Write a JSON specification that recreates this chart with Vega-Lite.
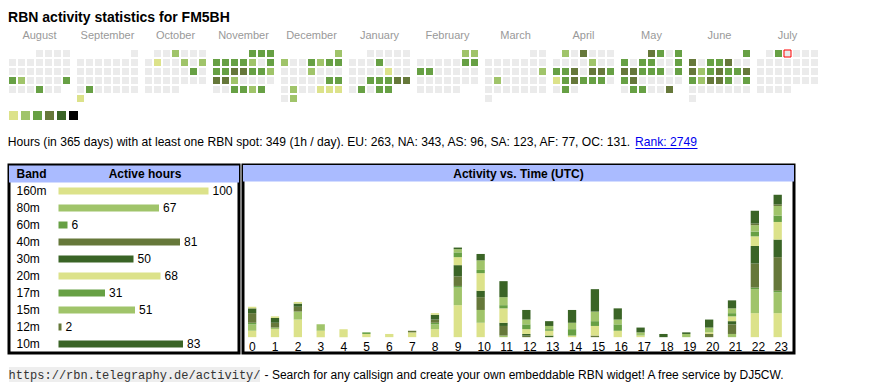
{
"$schema":"https://vega.github.io/schema/vega-lite/v6.json",
"padding":{"left":7,"top":11,"right":0,"bottom":0},
"background":"white",
"config":{"view":{"stroke":null},"font":"Liberation Sans","text":{"font":"Liberation Sans","fontSize":12,"color":"#000000"}},
"title":{"text":"RBN activity statistics for FM5BH","anchor":"start","fontSize":14,"fontWeight":"bold","font":"Liberation Sans","color":"#000000","offset":5,"dx":1},
"resolve":{"scale":{"color":"independent"}},
"spacing":10,
"vconcat":[
{"spacing":9,"resolve":{"scale":{"color":"independent"}},"vconcat":[
{"data":{"values":[
{"m":0,"r":0,"c":3,"v":0},{"m":0,"r":0,"c":4,"v":0},{"m":0,"r":0,"c":5,"v":0},{"m":0,"r":0,"c":6,"v":0},
{"m":0,"r":1,"c":0,"v":0},{"m":0,"r":1,"c":1,"v":0},{"m":0,"r":1,"c":2,"v":0},{"m":0,"r":1,"c":3,"v":0},{"m":0,"r":1,"c":4,"v":0},{"m":0,"r":1,"c":5,"v":0},{"m":0,"r":1,"c":6,"v":0},
{"m":0,"r":2,"c":0,"v":0},{"m":0,"r":2,"c":1,"v":0},{"m":0,"r":2,"c":2,"v":0},{"m":0,"r":2,"c":3,"v":0},{"m":0,"r":2,"c":4,"v":0},{"m":0,"r":2,"c":5,"v":0},{"m":0,"r":2,"c":6,"v":0},
{"m":0,"r":3,"c":0,"v":3},{"m":0,"r":3,"c":1,"v":2},{"m":0,"r":3,"c":2,"v":0},{"m":0,"r":3,"c":3,"v":0},{"m":0,"r":3,"c":4,"v":0},{"m":0,"r":3,"c":5,"v":0},{"m":0,"r":3,"c":6,"v":3},
{"m":0,"r":4,"c":0,"v":0},{"m":0,"r":4,"c":1,"v":0},{"m":0,"r":4,"c":2,"v":0},{"m":0,"r":4,"c":3,"v":3},{"m":0,"r":4,"c":4,"v":0},{"m":0,"r":4,"c":5,"v":0},
{"m":1,"r":0,"c":6,"v":0},
{"m":1,"r":1,"c":0,"v":0},{"m":1,"r":1,"c":1,"v":0},{"m":1,"r":1,"c":2,"v":0},{"m":1,"r":1,"c":3,"v":0},{"m":1,"r":1,"c":4,"v":0},{"m":1,"r":1,"c":5,"v":0},{"m":1,"r":1,"c":6,"v":0},
{"m":1,"r":2,"c":0,"v":0},{"m":1,"r":2,"c":1,"v":0},{"m":1,"r":2,"c":2,"v":0},{"m":1,"r":2,"c":3,"v":0},{"m":1,"r":2,"c":4,"v":0},{"m":1,"r":2,"c":5,"v":0},{"m":1,"r":2,"c":6,"v":0},
{"m":1,"r":3,"c":0,"v":0},{"m":1,"r":3,"c":1,"v":0},{"m":1,"r":3,"c":2,"v":0},{"m":1,"r":3,"c":3,"v":0},{"m":1,"r":3,"c":4,"v":0},{"m":1,"r":3,"c":5,"v":0},{"m":1,"r":3,"c":6,"v":0},
{"m":1,"r":4,"c":0,"v":0},{"m":1,"r":4,"c":1,"v":3},{"m":1,"r":4,"c":2,"v":0},{"m":1,"r":4,"c":3,"v":0},{"m":1,"r":4,"c":4,"v":0},{"m":1,"r":4,"c":5,"v":0},{"m":1,"r":4,"c":6,"v":0},
{"m":1,"r":5,"c":0,"v":1},
{"m":2,"r":0,"c":1,"v":0},{"m":2,"r":0,"c":2,"v":0},{"m":2,"r":0,"c":3,"v":2},{"m":2,"r":0,"c":4,"v":0},{"m":2,"r":0,"c":5,"v":0},{"m":2,"r":0,"c":6,"v":0},
{"m":2,"r":1,"c":0,"v":0},{"m":2,"r":1,"c":1,"v":1},{"m":2,"r":1,"c":2,"v":0},{"m":2,"r":1,"c":3,"v":0},{"m":2,"r":1,"c":4,"v":2},{"m":2,"r":1,"c":5,"v":0},{"m":2,"r":1,"c":6,"v":2},
{"m":2,"r":2,"c":0,"v":0},{"m":2,"r":2,"c":1,"v":0},{"m":2,"r":2,"c":2,"v":0},{"m":2,"r":2,"c":3,"v":0},{"m":2,"r":2,"c":4,"v":0},{"m":2,"r":2,"c":5,"v":3},{"m":2,"r":2,"c":6,"v":0},
{"m":2,"r":3,"c":0,"v":0},{"m":2,"r":3,"c":1,"v":0},{"m":2,"r":3,"c":2,"v":0},{"m":2,"r":3,"c":3,"v":0},{"m":2,"r":3,"c":4,"v":0},{"m":2,"r":3,"c":5,"v":0},{"m":2,"r":3,"c":6,"v":0},
{"m":2,"r":4,"c":0,"v":0},{"m":2,"r":4,"c":1,"v":0},{"m":2,"r":4,"c":2,"v":0},{"m":2,"r":4,"c":3,"v":0},
{"m":3,"r":0,"c":4,"v":3},{"m":3,"r":0,"c":5,"v":3},{"m":3,"r":0,"c":6,"v":3},
{"m":3,"r":1,"c":0,"v":3},{"m":3,"r":1,"c":1,"v":3},{"m":3,"r":1,"c":2,"v":3},{"m":3,"r":1,"c":3,"v":3},{"m":3,"r":1,"c":4,"v":2},{"m":3,"r":1,"c":5,"v":0},{"m":3,"r":1,"c":6,"v":3},
{"m":3,"r":2,"c":0,"v":3},{"m":3,"r":2,"c":1,"v":3},{"m":3,"r":2,"c":2,"v":4},{"m":3,"r":2,"c":3,"v":4},{"m":3,"r":2,"c":4,"v":3},{"m":3,"r":2,"c":5,"v":3},{"m":3,"r":2,"c":6,"v":2},
{"m":3,"r":3,"c":0,"v":4},{"m":3,"r":3,"c":1,"v":4},{"m":3,"r":3,"c":2,"v":2},{"m":3,"r":3,"c":3,"v":0},{"m":3,"r":3,"c":4,"v":0},{"m":3,"r":3,"c":5,"v":0},{"m":3,"r":3,"c":6,"v":0},
{"m":3,"r":4,"c":0,"v":0},{"m":3,"r":4,"c":1,"v":0},{"m":3,"r":4,"c":2,"v":3},{"m":3,"r":4,"c":3,"v":3},{"m":3,"r":4,"c":4,"v":2},{"m":3,"r":4,"c":5,"v":3},
{"m":4,"r":0,"c":6,"v":2},
{"m":4,"r":1,"c":0,"v":2},{"m":4,"r":1,"c":1,"v":0},{"m":4,"r":1,"c":2,"v":0},{"m":4,"r":1,"c":3,"v":3},{"m":4,"r":1,"c":4,"v":2},{"m":4,"r":1,"c":5,"v":3},{"m":4,"r":1,"c":6,"v":3},
{"m":4,"r":2,"c":0,"v":0},{"m":4,"r":2,"c":1,"v":0},{"m":4,"r":2,"c":2,"v":0},{"m":4,"r":2,"c":3,"v":2},{"m":4,"r":2,"c":4,"v":0},{"m":4,"r":2,"c":5,"v":0},{"m":4,"r":2,"c":6,"v":0},
{"m":4,"r":3,"c":0,"v":0},{"m":4,"r":3,"c":1,"v":0},{"m":4,"r":3,"c":2,"v":0},{"m":4,"r":3,"c":3,"v":0},{"m":4,"r":3,"c":4,"v":0},{"m":4,"r":3,"c":5,"v":3},{"m":4,"r":3,"c":6,"v":3},
{"m":4,"r":4,"c":0,"v":0},{"m":4,"r":4,"c":1,"v":2},{"m":4,"r":4,"c":2,"v":0},{"m":4,"r":4,"c":3,"v":0},{"m":4,"r":4,"c":4,"v":1},{"m":4,"r":4,"c":5,"v":1},{"m":4,"r":4,"c":6,"v":1},
{"m":4,"r":5,"c":0,"v":0},{"m":4,"r":5,"c":1,"v":2},
{"m":5,"r":0,"c":2,"v":0},{"m":5,"r":0,"c":3,"v":0},{"m":5,"r":0,"c":4,"v":0},{"m":5,"r":0,"c":5,"v":0},{"m":5,"r":0,"c":6,"v":0},
{"m":5,"r":1,"c":0,"v":0},{"m":5,"r":1,"c":1,"v":0},{"m":5,"r":1,"c":2,"v":0},{"m":5,"r":1,"c":3,"v":3},{"m":5,"r":1,"c":4,"v":0},{"m":5,"r":1,"c":5,"v":0},{"m":5,"r":1,"c":6,"v":0},
{"m":5,"r":2,"c":0,"v":0},{"m":5,"r":2,"c":1,"v":0},{"m":5,"r":2,"c":2,"v":0},{"m":5,"r":2,"c":3,"v":0},{"m":5,"r":2,"c":4,"v":1},{"m":5,"r":2,"c":5,"v":0},{"m":5,"r":2,"c":6,"v":0},
{"m":5,"r":3,"c":0,"v":0},{"m":5,"r":3,"c":1,"v":0},{"m":5,"r":3,"c":2,"v":3},{"m":5,"r":3,"c":3,"v":3},{"m":5,"r":3,"c":4,"v":3},{"m":5,"r":3,"c":5,"v":4},{"m":5,"r":3,"c":6,"v":4},
{"m":5,"r":4,"c":0,"v":0},{"m":5,"r":4,"c":1,"v":3},{"m":5,"r":4,"c":2,"v":0},{"m":5,"r":4,"c":3,"v":3},{"m":5,"r":4,"c":4,"v":3},
{"m":6,"r":0,"c":5,"v":2},{"m":6,"r":0,"c":6,"v":2},
{"m":6,"r":1,"c":0,"v":0},{"m":6,"r":1,"c":1,"v":0},{"m":6,"r":1,"c":2,"v":0},{"m":6,"r":1,"c":3,"v":0},{"m":6,"r":1,"c":4,"v":0},{"m":6,"r":1,"c":5,"v":3},{"m":6,"r":1,"c":6,"v":3},
{"m":6,"r":2,"c":0,"v":3},{"m":6,"r":2,"c":1,"v":3},{"m":6,"r":2,"c":2,"v":0},{"m":6,"r":2,"c":3,"v":0},{"m":6,"r":2,"c":4,"v":0},{"m":6,"r":2,"c":5,"v":0},{"m":6,"r":2,"c":6,"v":0},
{"m":6,"r":3,"c":0,"v":0},{"m":6,"r":3,"c":1,"v":0},{"m":6,"r":3,"c":2,"v":0},{"m":6,"r":3,"c":3,"v":0},{"m":6,"r":3,"c":4,"v":0},{"m":6,"r":3,"c":5,"v":0},{"m":6,"r":3,"c":6,"v":0},
{"m":6,"r":4,"c":0,"v":0},{"m":6,"r":4,"c":1,"v":0},{"m":6,"r":4,"c":2,"v":0},{"m":6,"r":4,"c":3,"v":0},{"m":6,"r":4,"c":4,"v":0},
{"m":7,"r":0,"c":5,"v":0},{"m":7,"r":0,"c":6,"v":0},
{"m":7,"r":1,"c":0,"v":0},{"m":7,"r":1,"c":1,"v":0},{"m":7,"r":1,"c":2,"v":0},{"m":7,"r":1,"c":3,"v":0},{"m":7,"r":1,"c":4,"v":0},{"m":7,"r":1,"c":5,"v":0},{"m":7,"r":1,"c":6,"v":0},
{"m":7,"r":2,"c":0,"v":0},{"m":7,"r":2,"c":1,"v":0},{"m":7,"r":2,"c":2,"v":0},{"m":7,"r":2,"c":3,"v":0},{"m":7,"r":2,"c":4,"v":0},{"m":7,"r":2,"c":5,"v":0},{"m":7,"r":2,"c":6,"v":2},
{"m":7,"r":3,"c":0,"v":0},{"m":7,"r":3,"c":1,"v":2},{"m":7,"r":3,"c":2,"v":0},{"m":7,"r":3,"c":3,"v":0},{"m":7,"r":3,"c":4,"v":0},{"m":7,"r":3,"c":5,"v":0},{"m":7,"r":3,"c":6,"v":0},
{"m":7,"r":4,"c":0,"v":0},{"m":7,"r":4,"c":1,"v":0},{"m":7,"r":4,"c":2,"v":0},{"m":7,"r":4,"c":3,"v":0},{"m":7,"r":4,"c":4,"v":0},{"m":7,"r":4,"c":5,"v":0},{"m":7,"r":4,"c":6,"v":0},
{"m":7,"r":5,"c":0,"v":0},
{"m":8,"r":0,"c":1,"v":2},{"m":8,"r":0,"c":2,"v":0},{"m":8,"r":0,"c":3,"v":4},{"m":8,"r":0,"c":4,"v":0},{"m":8,"r":0,"c":5,"v":0},{"m":8,"r":0,"c":6,"v":0},
{"m":8,"r":1,"c":0,"v":0},{"m":8,"r":1,"c":1,"v":0},{"m":8,"r":1,"c":2,"v":0},{"m":8,"r":1,"c":3,"v":0},{"m":8,"r":1,"c":4,"v":2},{"m":8,"r":1,"c":5,"v":0},{"m":8,"r":1,"c":6,"v":0},
{"m":8,"r":2,"c":0,"v":3},{"m":8,"r":2,"c":1,"v":3},{"m":8,"r":2,"c":2,"v":4},{"m":8,"r":2,"c":3,"v":0},{"m":8,"r":2,"c":4,"v":4},{"m":8,"r":2,"c":5,"v":4},{"m":8,"r":2,"c":6,"v":3},
{"m":8,"r":3,"c":0,"v":1},{"m":8,"r":3,"c":1,"v":3},{"m":8,"r":3,"c":2,"v":4},{"m":8,"r":3,"c":3,"v":3},{"m":8,"r":3,"c":4,"v":3},{"m":8,"r":3,"c":5,"v":3},{"m":8,"r":3,"c":6,"v":0},
{"m":8,"r":4,"c":0,"v":0},{"m":8,"r":4,"c":1,"v":3},{"m":8,"r":4,"c":2,"v":0},
{"m":9,"r":0,"c":3,"v":4},{"m":9,"r":0,"c":4,"v":3},{"m":9,"r":0,"c":5,"v":0},{"m":9,"r":0,"c":6,"v":3},
{"m":9,"r":1,"c":0,"v":3},{"m":9,"r":1,"c":1,"v":0},{"m":9,"r":1,"c":2,"v":3},{"m":9,"r":1,"c":3,"v":3},{"m":9,"r":1,"c":4,"v":0},{"m":9,"r":1,"c":5,"v":0},{"m":9,"r":1,"c":6,"v":3},
{"m":9,"r":2,"c":0,"v":4},{"m":9,"r":2,"c":1,"v":4},{"m":9,"r":2,"c":2,"v":3},{"m":9,"r":2,"c":3,"v":3},{"m":9,"r":2,"c":4,"v":3},{"m":9,"r":2,"c":5,"v":0},{"m":9,"r":2,"c":6,"v":3},
{"m":9,"r":3,"c":0,"v":3},{"m":9,"r":3,"c":1,"v":4},{"m":9,"r":3,"c":2,"v":0},{"m":9,"r":3,"c":3,"v":0},{"m":9,"r":3,"c":4,"v":0},{"m":9,"r":3,"c":5,"v":0},{"m":9,"r":3,"c":6,"v":0},
{"m":9,"r":4,"c":0,"v":0},{"m":9,"r":4,"c":1,"v":3},{"m":9,"r":4,"c":2,"v":3},{"m":9,"r":4,"c":3,"v":0},{"m":9,"r":4,"c":4,"v":0},{"m":9,"r":4,"c":5,"v":4},
{"m":10,"r":0,"c":6,"v":3},
{"m":10,"r":1,"c":0,"v":4},{"m":10,"r":1,"c":1,"v":0},{"m":10,"r":1,"c":2,"v":3},{"m":10,"r":1,"c":3,"v":3},{"m":10,"r":1,"c":4,"v":4},{"m":10,"r":1,"c":5,"v":0},{"m":10,"r":1,"c":6,"v":0},
{"m":10,"r":2,"c":0,"v":4},{"m":10,"r":2,"c":1,"v":2},{"m":10,"r":2,"c":2,"v":3},{"m":10,"r":2,"c":3,"v":4},{"m":10,"r":2,"c":4,"v":3},{"m":10,"r":2,"c":5,"v":3},{"m":10,"r":2,"c":6,"v":4},
{"m":10,"r":3,"c":0,"v":3},{"m":10,"r":3,"c":1,"v":2},{"m":10,"r":3,"c":2,"v":4},{"m":10,"r":3,"c":3,"v":4},{"m":10,"r":3,"c":4,"v":3},{"m":10,"r":3,"c":5,"v":0},{"m":10,"r":3,"c":6,"v":3},
{"m":10,"r":4,"c":0,"v":0},{"m":10,"r":4,"c":1,"v":0},{"m":10,"r":4,"c":2,"v":0},{"m":10,"r":4,"c":3,"v":0},{"m":10,"r":4,"c":4,"v":0},{"m":10,"r":4,"c":5,"v":0},{"m":10,"r":4,"c":6,"v":0},
{"m":10,"r":5,"c":0,"v":0},
{"m":11,"r":0,"c":1,"v":0},{"m":11,"r":0,"c":2,"v":3},{"m":11,"r":0,"c":3,"v":0,"t":1},{"m":11,"r":0,"c":4,"v":0},{"m":11,"r":0,"c":5,"v":0},{"m":11,"r":0,"c":6,"v":0},
{"m":11,"r":1,"c":0,"v":0},{"m":11,"r":1,"c":1,"v":0},{"m":11,"r":1,"c":2,"v":0},{"m":11,"r":1,"c":3,"v":0},{"m":11,"r":1,"c":4,"v":0},{"m":11,"r":1,"c":5,"v":0},{"m":11,"r":1,"c":6,"v":0},
{"m":11,"r":2,"c":0,"v":0},{"m":11,"r":2,"c":1,"v":0},{"m":11,"r":2,"c":2,"v":0},{"m":11,"r":2,"c":3,"v":0},{"m":11,"r":2,"c":4,"v":0},{"m":11,"r":2,"c":5,"v":0},{"m":11,"r":2,"c":6,"v":0},
{"m":11,"r":3,"c":0,"v":0},{"m":11,"r":3,"c":1,"v":0},{"m":11,"r":3,"c":2,"v":0},{"m":11,"r":3,"c":3,"v":0},{"m":11,"r":3,"c":4,"v":0},{"m":11,"r":3,"c":5,"v":0},{"m":11,"r":3,"c":6,"v":0},
{"m":11,"r":4,"c":0,"v":0},{"m":11,"r":4,"c":1,"v":0},{"m":11,"r":4,"c":2,"v":0},{"m":11,"r":4,"c":3,"v":0}
]},
"facet":{"column":{"field":"m","type":"ordinal","title":null,"header":{"labelExpr":"['August','September','October','November','December','January','February','March','April','May','June','July'][datum.value]","labelFontSize":11,"labelColor":"#999999","labelFont":"Liberation Sans","labelPadding":8}}},
"spacing":7,
"spec":{"width":61,"height":52,"layer":[
{"mark":{"type":"rect"},"encoding":{
"x":{"field":"c","type":"ordinal","scale":{"domain":[0,1,2,3,4,5,6],"paddingInner":0.2222,"paddingOuter":0},"axis":null},
"y":{"field":"r","type":"ordinal","scale":{"domain":[0,1,2,3,4,5],"paddingInner":0.2222,"paddingOuter":0},"axis":null},
"color":{"field":"v","type":"ordinal","scale":{"domain":[0,1,2,3,4,5,6],"range":["#ebebeb","#dce28a","#a0c46a","#67a044","#66783a","#3a6426","#000000"]},"legend":null}}},
{"transform":[{"filter":"datum.t == 1"}],"mark":{"type":"rect","filled":false,"color":"#ff0000","strokeWidth":1},"encoding":{
"x":{"field":"c","type":"ordinal","scale":{"domain":[0,1,2,3,4,5,6],"paddingInner":0.2222,"paddingOuter":0},"axis":null},
"y":{"field":"r","type":"ordinal","scale":{"domain":[0,1,2,3,4,5],"paddingInner":0.2222,"paddingOuter":0},"axis":null}}}
]}
},
{"data":{"values":[{"v":1},{"v":2},{"v":3},{"v":4},{"v":5},{"v":6}]},
"width":69,"height":9,"mark":{"type":"rect"},
"encoding":{"x":{"field":"v","type":"ordinal","scale":{"paddingInner":0.25,"paddingOuter":0},"axis":null},
"color":{"field":"v","type":"ordinal","scale":{"domain":[0,1,2,3,4,5,6],"range":["#ebebeb","#dce28a","#a0c46a","#67a044","#66783a","#3a6426","#000000"]},"legend":null}}},
{"spacing":4,"hconcat":[
{"data":{"values":[{"t":"Hours (in 365 days) with at least one RBN spot: 349 (1h / day). EU: 263, NA: 343, AS: 96, SA: 123, AF: 77, OC: 131."}]},
"width":620,"height":24,"mark":{"type":"text","fontSize":12.1,"align":"center","color":"#000000","dy":1},"encoding":{"text":{"field":"t"}}},
{"data":{"values":[{"t":"Rank: 2749"}]},
"width":62,"height":24,"mark":{"type":"text","fontSize":12.1,"align":"center","color":"#0000ee","dy":1},
"encoding":{"text":{"field":"t"},"x":{"datum":0.5,"type":"quantitative","scale":{"domain":[0,1]},"axis":{"orient":"bottom","offset":-5,"domainColor":"#0000ee","domainWidth":1,"ticks":false,"labels":false,"grid":false,"title":null}}}}
]}
]},
{"spacing":12,"resolve":{"scale":{"color":"independent"}},"vconcat":[
{"spacing":0,"hconcat":[
{"width":230,"height":188,"view":{"stroke":"#000000","strokeWidth":3},
"data":{"values":[{"b":"160m","h":100},{"b":"80m","h":67},{"b":"60m","h":6},{"b":"40m","h":81},{"b":"30m","h":50},{"b":"20m","h":68},{"b":"17m","h":31},{"b":"15m","h":51},{"b":"12m","h":2},{"b":"10m","h":83}]},
"layer":[
{"data":{"values":[{"t":"Band"}]},"mark":{"type":"rect","color":"#aabbff"},"encoding":{"y":{"datum":"hdr","type":"nominal","scale":{"domain":["hdr","160m","80m","60m","40m","30m","20m","17m","15m","12m","10m"],"paddingInner":0,"paddingOuter":0.03},"axis":null}}},
{"data":{"values":[{"t":"Band"}]},"mark":{"type":"text","fontWeight":"bold","align":"left","fontSize":12},"encoding":{"text":{"field":"t"},
"x":{"datum":-28,"type":"quantitative","scale":{"domain":[-33,120.33],"nice":false,"zero":false},"axis":null},
"y":{"datum":"hdr","type":"nominal","scale":{"domain":["hdr","160m","80m","60m","40m","30m","20m","17m","15m","12m","10m"],"paddingInner":0,"paddingOuter":0.03},"axis":null}}},
{"data":{"values":[{"t":"Active hours"}]},"mark":{"type":"text","fontWeight":"bold","align":"center","fontSize":12},"encoding":{"text":{"field":"t"},
"x":{"datum":57.67,"type":"quantitative","scale":{"domain":[-33,120.33],"nice":false,"zero":false},"axis":null},
"y":{"datum":"hdr","type":"nominal","scale":{"domain":["hdr","160m","80m","60m","40m","30m","20m","17m","15m","12m","10m"],"paddingInner":0,"paddingOuter":0.03},"axis":null}}},
{"mark":{"type":"bar","size":7},"encoding":{
"x":{"field":"h","type":"quantitative","scale":{"domain":[-33,120.33],"nice":false,"zero":false},"axis":null},
"y":{"field":"b","type":"nominal","scale":{"domain":["hdr","160m","80m","60m","40m","30m","20m","17m","15m","12m","10m"],"paddingInner":0,"paddingOuter":0.03},"axis":null},
"color":{"field":"b","type":"nominal","scale":{"domain":["160m","80m","60m","40m","30m","20m","17m","15m","12m","10m"],"range":["#dce28a","#a0c46a","#67a044","#66783a","#3a6426","#dce28a","#67a044","#a0c46a","#66783a","#3a6426"]},"legend":null}}},
{"mark":{"type":"text","align":"left","dx":4,"fontSize":12},"encoding":{
"x":{"field":"h","type":"quantitative","scale":{"domain":[-33,120.33],"nice":false,"zero":false},"axis":null},
"y":{"field":"b","type":"nominal","scale":{"domain":["hdr","160m","80m","60m","40m","30m","20m","17m","15m","12m","10m"],"paddingInner":0,"paddingOuter":0.03},"axis":null},
"text":{"field":"h","type":"quantitative"}}},
{"mark":{"type":"text","align":"left","fontSize":12},"encoding":{
"x":{"datum":-28,"type":"quantitative","scale":{"domain":[-33,120.33],"nice":false,"zero":false},"axis":null},
"y":{"field":"b","type":"nominal","scale":{"domain":["hdr","160m","80m","60m","40m","30m","20m","17m","15m","12m","10m"],"paddingInner":0,"paddingOuter":0.03},"axis":null},
"text":{"field":"b","type":"nominal"}}}
]},
{"width":551,"height":188,"view":{"stroke":"#000000","strokeWidth":3},
"data":{"values":[
{"h":0,"w":160,"n":4},{"h":0,"w":80,"n":4},{"h":0,"w":60,"n":1},{"h":0,"w":40,"n":6},{"h":0,"w":30,"n":3},{"h":0,"w":20,"n":1},
{"h":1,"w":160,"n":5},{"h":1,"w":80,"n":1},{"h":1,"w":40,"n":3},{"h":1,"w":30,"n":3},{"h":1,"w":20,"n":1},
{"h":2,"w":160,"n":11},{"h":2,"w":80,"n":5},{"h":2,"w":40,"n":3},{"h":2,"w":30,"n":2},{"h":2,"w":20,"n":1},
{"h":3,"w":160,"n":4},{"h":3,"w":80,"n":4},
{"h":4,"w":160,"n":5},
{"h":5,"w":160,"n":2},{"h":5,"w":60,"n":1},
{"h":6,"w":160,"n":2},
{"h":7,"w":160,"n":3},{"h":7,"w":40,"n":1},
{"h":8,"w":160,"n":5},{"h":8,"w":80,"n":3},{"h":8,"w":60,"n":1},{"h":8,"w":40,"n":2},{"h":8,"w":30,"n":3},{"h":8,"w":20,"n":1},
{"h":9,"w":160,"n":20},{"h":9,"w":80,"n":11},{"h":9,"w":60,"n":1},{"h":9,"w":40,"n":6},{"h":9,"w":30,"n":7},{"h":9,"w":20,"n":5},{"h":9,"w":17,"n":3},{"h":9,"w":15,"n":2},{"h":9,"w":10,"n":1},
{"h":10,"w":160,"n":9},{"h":10,"w":80,"n":8},{"h":10,"w":40,"n":8},{"h":10,"w":30,"n":4},{"h":10,"w":20,"n":11},{"h":10,"w":17,"n":2},{"h":10,"w":15,"n":6},{"h":10,"w":10,"n":4},
{"h":11,"w":80,"n":1},{"h":11,"w":40,"n":6},{"h":11,"w":30,"n":2},{"h":11,"w":20,"n":9},{"h":11,"w":17,"n":2},{"h":11,"w":15,"n":5},{"h":11,"w":10,"n":10},
{"h":12,"w":40,"n":1},{"h":12,"w":30,"n":1},{"h":12,"w":20,"n":3},{"h":12,"w":17,"n":3},{"h":12,"w":15,"n":3},{"h":12,"w":10,"n":6},
{"h":13,"w":30,"n":1},{"h":13,"w":20,"n":3},{"h":13,"w":17,"n":1},{"h":13,"w":15,"n":2},{"h":13,"w":10,"n":3},
{"h":14,"w":20,"n":1},{"h":14,"w":17,"n":4},{"h":14,"w":15,"n":4},{"h":14,"w":10,"n":8},
{"h":15,"w":40,"n":1},{"h":15,"w":20,"n":6},{"h":15,"w":17,"n":3},{"h":15,"w":15,"n":6},{"h":15,"w":10,"n":14},
{"h":16,"w":20,"n":4},{"h":16,"w":17,"n":4},{"h":16,"w":15,"n":3},{"h":16,"w":10,"n":7},
{"h":17,"w":20,"n":1},{"h":17,"w":15,"n":2},{"h":17,"w":10,"n":3},
{"h":18,"w":10,"n":2},
{"h":19,"w":15,"n":2},{"h":19,"w":10,"n":1},
{"h":20,"w":40,"n":2},{"h":20,"w":20,"n":1},{"h":20,"w":15,"n":3},{"h":20,"w":10,"n":5},
{"h":21,"w":80,"n":2},{"h":21,"w":40,"n":6},{"h":21,"w":30,"n":2},{"h":21,"w":20,"n":3},{"h":21,"w":17,"n":2},{"h":21,"w":15,"n":3},{"h":21,"w":10,"n":5},
{"h":22,"w":160,"n":15},{"h":22,"w":80,"n":15},{"h":22,"w":60,"n":1},{"h":22,"w":40,"n":15},{"h":22,"w":30,"n":11},{"h":22,"w":20,"n":6},{"h":22,"w":17,"n":3},{"h":22,"w":15,"n":4},{"h":22,"w":12,"n":1},{"h":22,"w":10,"n":8},
{"h":23,"w":160,"n":15},{"h":23,"w":80,"n":13},{"h":23,"w":60,"n":1},{"h":23,"w":40,"n":21},{"h":23,"w":30,"n":11},{"h":23,"w":20,"n":11},{"h":23,"w":17,"n":4},{"h":23,"w":15,"n":6},{"h":23,"w":12,"n":1},{"h":23,"w":10,"n":6}
]},
"layer":[
{"data":{"values":[{"t":"Activity vs. Time (UTC)"}]},"mark":{"type":"rect","color":"#aabbff"},"encoding":{
"y":{"datum":97.3,"type":"quantitative","scale":{"domain":[-9.9,107.6],"nice":false,"zero":false},"axis":null},"y2":{"datum":107.6}}},
{"data":{"values":[{"t":"Activity vs. Time (UTC)"}]},"mark":{"type":"text","fontWeight":"bold","fontSize":12},"encoding":{"text":{"field":"t"},
"y":{"datum":102,"type":"quantitative","scale":{"domain":[-9.9,107.6],"nice":false,"zero":false},"axis":null}}},
{"mark":{"type":"bar"},"encoding":{
"x":{"field":"h","type":"ordinal","scale":{"domain":[0,1,2,3,4,5,6,7,8,9,10,11,12,13,14,15,16,17,18,19,20,21,22,23],"range":[0,543.85],"paddingInner":0.637,"paddingOuter":0.219},"axis":null},
"y":{"field":"n","type":"quantitative","stack":"zero","scale":{"domain":[-9.9,107.6],"nice":false,"zero":false},"axis":null},
"color":{"field":"w","type":"nominal","scale":{"domain":[160,80,60,40,30,20,17,15,12,10],"range":["#dce28a","#a0c46a","#67a044","#66783a","#3a6426","#dce28a","#67a044","#a0c46a","#66783a","#3a6426"]},"legend":null},
"order":{"field":"w","type":"quantitative","sort":"descending"}}},
{"transform":[{"aggregate":[{"op":"count","as":"k"}],"groupby":["h"]}],"mark":{"type":"text","align":"left","dx":1,"fontSize":12},"encoding":{
"x":{"field":"h","type":"ordinal","bandPosition":0,"scale":{"domain":[0,1,2,3,4,5,6,7,8,9,10,11,12,13,14,15,16,17,18,19,20,21,22,23],"range":[0,543.85],"paddingInner":0.637,"paddingOuter":0.219},"axis":null},
"y":{"datum":-6.46,"type":"quantitative","scale":{"domain":[-9.9,107.6],"nice":false,"zero":false},"axis":null},
"text":{"field":"h","type":"ordinal"}}}
]}
]},
{"spacing":2,"hconcat":[
{"data":{"values":[{"t":"https://rbn.telegraphy.de/activity/"}]},"width":251,"height":15,"view":{"fill":"#eeeeee","stroke":null},
"mark":{"type":"text","font":"Liberation Mono","fontSize":12,"color":"#333333"},"encoding":{"text":{"field":"t"}}},
{"data":{"values":[{"t":"- Search for any callsign and create your own embeddable RBN widget! A free service by DJ5CW."}]},"width":522,"height":15,
"mark":{"type":"text","fontSize":12,"color":"#000000"},"encoding":{"text":{"field":"t"}}}
]}
]}
]
}
